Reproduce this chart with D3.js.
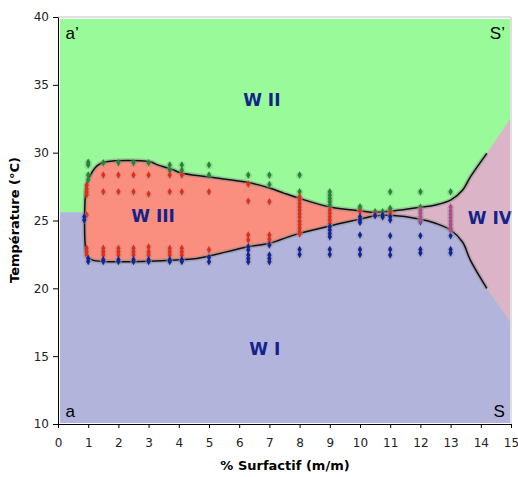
<!DOCTYPE html>
<html>
<head>
<meta charset="utf-8">
<title></title>
<style>
  body { margin: 0; background: #fff; }
  svg text { font-family: "DejaVu Sans", Verdana, sans-serif; }
</style>
</head>
<body>
<div id="chart"></div>
<script src="https://d3js.org/d3.v7.min.js"></script>
<script type="text/javascript">

// axes
const xTickValues = [0, 1, 2, 3, 4, 5, 6, 7, 8, 9, 10, 11, 12, 13, 14, 15];
const yTickValues = [10, 15, 20, 25, 30, 35, 40];

// limites des phases (x = % surfactif, y = temperature)
const upperCurve = [[1.0, 28.0], [1.3, 29.05], [1.6, 29.33], [3.05, 29.33], [3.3, 29.1], [3.8, 28.75], [4.05, 28.52],
  [5.0, 28.2], [6.3, 27.8], [7.0, 27.4], [7.5, 27.0], [8.0, 26.63], [9.0, 26.0], [10.0, 25.72], [10.5, 25.6],
  [11.0, 25.68], [12.0, 25.97], [12.5, 26.15], [13.0, 26.5], [13.4, 27.25], [13.65, 28.2], [14.2, 29.95]];
const lowerCurve = [[0.95, 22.4], [1.15, 22.08], [4.05, 22.1], [4.6, 22.2], [5.0, 22.38], [6.3, 23.07], [7.0, 23.32],
  [7.7, 23.85], [8.0, 24.05], [9.0, 24.6], [10.0, 25.1], [10.5, 25.35], [11.0, 25.38], [12.0, 25.1], [12.5, 24.8],
  [13.0, 24.3], [13.4, 23.4], [13.65, 22.1], [14.2, 20.0]];
const leftEdge = [[0.9, 23.2], [0.88, 24.5], [0.89, 26.2], [0.93, 27.4]];
const wivTop = [15, 32.6];
const wivBottom = [15, 17.5];
const wiiLevel = 25.6;   // limite W I / W II a gauche
const wiiiEnd = 11.2;    // fin de W III

// points mesures
const ptsWII = [[1.0, 29.3], [1.0, 29.1], [1.0, 28.35], [1.0, 28.0], [1.5, 29.25], [2.0, 29.25], [2.5, 29.25], [3.0, 29.25],
  [3.7, 29.1], [3.7, 28.7], [4.1, 29.1], [4.1, 28.7], [5.0, 29.1], [5.0, 28.35], [6.3, 28.35], [7.0, 28.35], [7.0, 27.66],
  [8.0, 28.35], [8.0, 27.12], [9.0, 27.12], [9.0, 26.87], [9.0, 26.62], [9.0, 26.38], [9.0, 26.14], [10.0, 26.01],
  [10.0, 25.84], [10.5, 25.65], [10.75, 25.65], [11.0, 27.12], [11.0, 25.9], [11.0, 25.75], [12.0, 27.12], [12.0, 25.97],
  [13.0, 27.12]];
const ptsWIII = [[0.95, 27.6], [0.95, 27.3], [0.95, 27.1], [0.95, 26.9], [0.95, 25.4], [0.95, 22.95], [0.95, 22.7], [0.95, 22.45],
  [1.5, 28.35], [1.5, 27.12], [1.5, 22.95], [1.5, 22.7], [1.5, 22.45],
  [2.0, 28.35], [2.0, 27.12], [2.0, 22.95], [2.0, 22.7], [2.0, 22.45],
  [2.5, 28.35], [2.5, 27.12], [2.5, 22.95], [2.5, 22.7], [2.5, 22.45],
  [3.0, 28.35], [3.0, 26.95], [3.0, 23.05], [3.0, 22.7], [3.0, 22.45],
  [3.7, 28.35], [3.7, 27.12], [3.7, 22.95], [3.7, 22.7], [3.7, 22.45],
  [4.1, 28.35], [4.1, 27.12], [4.1, 22.95], [4.1, 22.7], [4.1, 22.45],
  [5.0, 27.12], [5.0, 22.85], [6.3, 27.69], [6.3, 26.43], [6.3, 23.93], [6.3, 23.56],
  [7.0, 26.38], [7.0, 23.93], [7.0, 23.61], [7.0, 23.36],
  [8.0, 26.75], [8.0, 26.5], [8.0, 26.25], [8.0, 26.0], [8.0, 25.75], [8.0, 25.5], [8.0, 25.25], [8.0, 24.95],
  [8.0, 24.7], [8.0, 24.45], [8.0, 24.2], [8.0, 24.0],
  [9.0, 25.77], [9.0, 25.53], [9.0, 25.28], [9.0, 25.03], [9.0, 24.79], [10.0, 25.65], [10.5, 25.48], [11.0, 25.55]];
const ptsWI = [[0.87, 25.28], [0.87, 25.03], [1.0, 22.2], [1.0, 21.98], [1.5, 22.1], [1.5, 21.98], [2.0, 22.1], [2.0, 21.98],
  [2.5, 22.1], [2.5, 21.98], [3.0, 22.1], [3.0, 21.98], [3.7, 22.1], [3.7, 21.98], [4.1, 22.1], [4.1, 21.98],
  [5.0, 22.28], [5.0, 21.96], [6.3, 23.07], [6.3, 22.82], [6.3, 22.45], [6.3, 22.2], [6.3, 21.96],
  [7.0, 23.19], [7.0, 22.45], [7.0, 22.2], [7.0, 21.96], [8.0, 22.87], [8.0, 22.5],
  [9.0, 24.54], [9.0, 24.3], [9.0, 24.05], [9.0, 23.8], [9.0, 22.87], [9.0, 22.5],
  [10.0, 25.28], [10.0, 25.03], [10.0, 24.86], [10.0, 23.93], [10.0, 22.87], [10.0, 22.5],
  [10.5, 25.35], [10.75, 25.4], [10.75, 25.25], [11.0, 25.28], [11.0, 25.03], [11.0, 23.88], [11.0, 22.87], [11.0, 22.45],
  [12.0, 24.9], [12.0, 23.88], [12.0, 22.87], [12.0, 22.6], [13.0, 23.88], [13.0, 22.87], [13.0, 22.6]];
const ptsWIV = [[12.0, 25.77], [12.0, 25.53], [12.0, 25.28], [12.0, 25.03],
  [13.0, 26.0], [13.0, 25.7], [13.0, 25.45], [13.0, 25.2], [13.0, 24.95], [13.0, 24.7], [13.0, 24.45], [13.0, 24.3]];

const phaseLabels = [["W II", 6.75, 33.45], ["W III", 3.15, 24.9], ["W IV", 14.3, 24.75], ["W I", 6.85, 15.1]];
const cornerLabels = [["a\u2019", 0.25, 38.4, "start"], ["S\u2019", 14.8, 38.4, "end"], ["a", 0.25, 10.5, "start"], ["S", 14.8, 10.5, "end"]];

const W = 518, H = 477;
const svg = d3.select("#chart").append("svg").attr("width", W).attr("height", H);

const x = d3.scaleLinear().domain([0, 15]).range([58, 511]);
const y = d3.scaleLinear().domain([10, 40]).range([424, 17]);

const line = d3.line().x(d => x(d[0])).y(d => y(d[1])).curve(d3.curveCatmullRom.alpha(0.5));

// zone de trace
const defs = svg.append("defs");
defs.append("clipPath").attr("id", "plot").append("rect")
  .attr("x", x(0) + 2).attr("y", y(40) + 2)
  .attr("width", x(15) - x(0) - 3).attr("height", y(10) - y(40) - 3);
defs.append("clipPath").attr("id", "wiii").append("rect")
  .attr("x", 0).attr("y", 0).attr("width", x(wiiiEnd)).attr("height", H);

const g = svg.append("g").attr("clip-path", "url(#plot)");

g.append("rect")
  .attr("x", x(0)).attr("y", y(40))
  .attr("width", x(15) - x(0)).attr("height", y(10) - y(40))
  .attr("fill", "#98fa98");

// W I
const blueEdge = [[0.88, wiiLevel]].concat(leftEdge.slice(0, 2).reverse(), lowerCurve);
g.append("path")
  .attr("d", "M" + x(0) + "," + y(10) + "L" + x(0) + "," + y(wiiLevel) +
    line(blueEdge).replace(/^M/, "L") +
    "L" + x(wivBottom[0]) + "," + y(wivBottom[1]) + "L" + x(15) + "," + y(10) + "Z")
  .attr("fill", "#b2b4dc");

// W III + W IV
const outline = lowerCurve.slice().reverse().concat(leftEdge, upperCurve);
const bandPath = line(outline) + "L" + x(wivTop[0]) + "," + y(wivTop[1]) +
  "L" + x(wivBottom[0]) + "," + y(wivBottom[1]) + "Z";
g.append("path").attr("d", bandPath).attr("fill", "#dcb4c8");
g.append("path").attr("d", bandPath).attr("fill", "#fb8f7f").attr("clip-path", "url(#wiii)");

// contour
g.append("path").attr("d", line(outline))
  .attr("fill", "none").attr("stroke", "#888").attr("stroke-opacity", 0.45).attr("stroke-width", 4.5);
g.append("path").attr("d", line(outline))
  .attr("fill", "none").attr("stroke", "#111").attr("stroke-width", 1.5);

// points
const sym = d3.symbol().type(d3.symbolDiamond);
function drawPts(pts, color) {
  g.selectAll(null).data(pts).enter().append("circle")
    .attr("cx", d => x(d[0])).attr("cy", d => y(d[1]) + 0.5).attr("r", 3.6)
    .attr("fill", "#999").attr("fill-opacity", 0.35);
  g.selectAll(null).data(pts).enter().append("path")
    .attr("transform", d => "translate(" + x(d[0]) + "," + y(d[1]) + ")")
    .attr("d", sym.size(16)())
    .attr("fill", color);
}
drawPts(ptsWII, "#1a8a2c");
drawPts(ptsWIII, "#ea2a12");
drawPts(ptsWI, "#10239c");
drawPts(ptsWIV, "#b04c86");

// etiquettes des phases
svg.selectAll(".phase").data(phaseLabels).enter().append("text")
  .attr("class", "phase")
  .attr("x", d => x(d[1])).attr("y", d => y(d[2]))
  .attr("text-anchor", "middle")
  .style("font-size", "17px").style("font-weight", "bold")
  .attr("fill", "#13238b")
  .text(d => d[0]);

svg.selectAll(".corner").data(cornerLabels).enter().append("text")
  .attr("class", "corner")
  .attr("x", d => x(d[1])).attr("y", d => y(d[2]))
  .attr("text-anchor", d => d[3])
  .style("font-family", "'Liberation Sans', Arial, sans-serif").style("font-size", "17px")
  .attr("fill", "#000")
  .text(d => d[0]);

// cadre
svg.append("path")
  .attr("d", "M" + x(0) + "," + y(40) + "H" + x(15) + "V" + y(10))
  .attr("fill", "none").attr("stroke", "#c0c0c0").attr("stroke-width", 1);

// axes
const xAxis = svg.append("g").attr("transform", "translate(0," + y(10) + ")")
  .call(d3.axisBottom(x).tickValues(xTickValues).tickSize(4).tickSizeOuter(0).tickPadding(10));
const yAxis = svg.append("g").attr("transform", "translate(" + x(0) + ",0)")
  .call(d3.axisLeft(y).tickValues(yTickValues).tickSize(5).tickSizeOuter(0).tickPadding(4));
[xAxis, yAxis].forEach(a => {
  a.selectAll("text").style("font-size", "12px").attr("fill", "#222");
  a.select(".domain").attr("stroke", "#000");
  a.selectAll(".tick line").attr("stroke", "#000");
});

svg.append("text")
  .attr("x", 285).attr("y", 470)
  .attr("text-anchor", "middle")
  .style("font-size", "13px").style("font-weight", "bold")
  .text("% Surfactif (m/m)");

svg.append("text")
  .attr("transform", "translate(19,220) rotate(-90)")
  .attr("text-anchor", "middle")
  .style("font-size", "13px").style("font-weight", "bold")
  .text("Température (°C)");

</script>
</body>
</html>
